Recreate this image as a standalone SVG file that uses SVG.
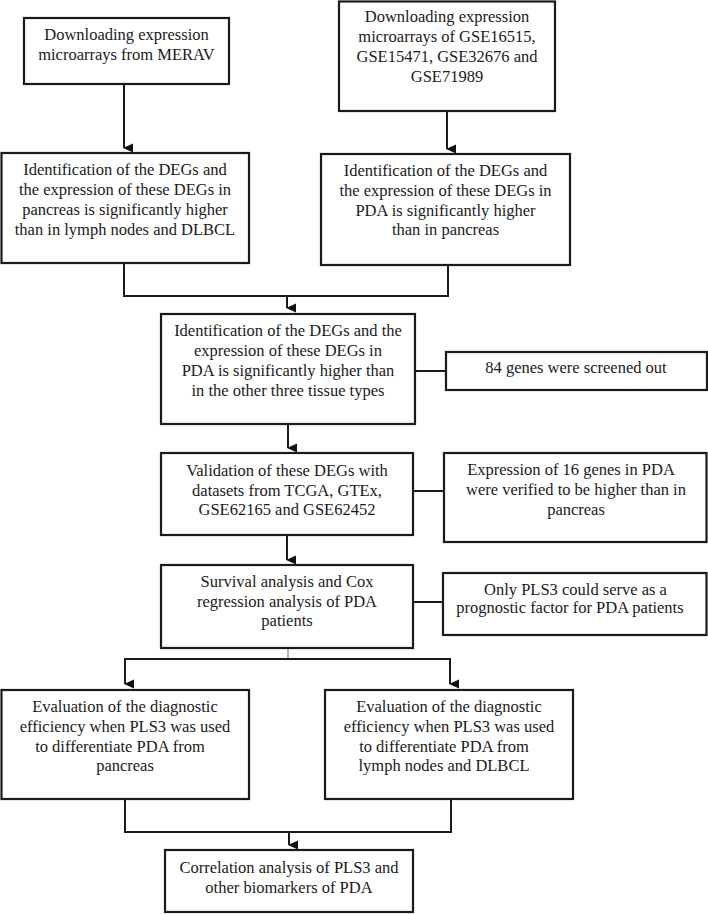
<svg xmlns="http://www.w3.org/2000/svg" width="708" height="914" viewBox="0 0 708 914">
<defs>
<marker id="arr" markerWidth="10" markerHeight="10" refX="5" refY="9" orient="auto" markerUnits="userSpaceOnUse" viewBox="0 0 10 10">
<path d="M0.5,0 L9.5,0 L5,10 Z" fill="#111"/>
</marker>
<style>
.box{fill:#fff;stroke:#1a1a1a;stroke-width:2.2}
.t{font-family:"Liberation Serif","Times New Roman",serif;font-size:16.5px;fill:#1a1a1a;text-anchor:middle}
.c{fill:none;stroke:#1a1a1a;stroke-width:2}
.g{fill:none;stroke:#888;stroke-width:1.2}
</style>
</defs>
<rect width="708" height="914" fill="#fff"/>
<g id="connectors">
<path class="c" d="M124,84 V148" marker-end="url(#arr)"/>
<path class="c" d="M447,111 V149" marker-end="url(#arr)"/>
<path class="c" d="M124,263 V296 H448 V265"/>
<path class="c" d="M287,296 V308" marker-end="url(#arr)"/>
<path class="c" d="M415,371 H446"/>
<path class="c" d="M288,424 V448" marker-end="url(#arr)"/>
<path class="c" d="M413,491 H444"/>
<path class="c" d="M287,535 V560" marker-end="url(#arr)"/>
<path class="c" d="M413,602 H443"/>
<path class="g" d="M288,648 V659"/>
<path class="c" d="M125,684 V659 H450 V684" marker-end="url(#arr)"/>
<path class="c" d="M125,660 V684" marker-end="url(#arr)"/>
<path class="c" d="M125,799 V832 H451 V799"/>
<path class="c" d="M289,832 V845" marker-end="url(#arr)"/>
</g>
<g id="n1">
<rect class="box" x="24" y="18" width="205" height="66"/>
<text class="t" x="126.5" y="40">Downloading expression</text>
<text class="t" x="126.5" y="60">microarrays from MERAV</text>
</g>
<g id="n2">
<rect class="box" x="339" y="1.5" width="216" height="109.5"/>
<text class="t" x="447" y="22">Downloading expression</text>
<text class="t" x="447" y="42">microarrays of GSE16515,</text>
<text class="t" x="447" y="62">GSE15471, GSE32676 and</text>
<text class="t" x="447" y="82">GSE71989</text>
</g>
<g id="n3">
<rect class="box" x="1.5" y="153" width="247.5" height="110"/>
<text class="t" x="125" y="175">Identification of the DEGs and</text>
<text class="t" x="125" y="195">the expression of these DEGs in</text>
<text class="t" x="125" y="215">pancreas is significantly higher</text>
<text class="t" x="125" y="235">than in lymph nodes and DLBCL</text>
</g>
<g id="n4">
<rect class="box" x="321" y="154" width="249" height="111"/>
<text class="t" x="445.5" y="176">Identification of the DEGs and</text>
<text class="t" x="445.5" y="196">the expression of these DEGs in</text>
<text class="t" x="445.5" y="216">PDA is significantly higher</text>
<text class="t" x="445.5" y="235">than in pancreas</text>
</g>
<g id="n5">
<rect class="box" x="161" y="314" width="254" height="110"/>
<text class="t" x="288" y="336">Identification of the DEGs and the</text>
<text class="t" x="288" y="356">expression of these DEGs in</text>
<text class="t" x="288" y="376">PDA is significantly higher than</text>
<text class="t" x="288" y="396">in the other three tissue types</text>
</g>
<g id="n6">
<rect class="box" x="446" y="352" width="261" height="38"/>
<text class="t" x="576" y="373">84 genes were screened out</text>
</g>
<g id="n7">
<rect class="box" x="161" y="453" width="252" height="82"/>
<text class="t" x="287" y="476">Validation of these DEGs with</text>
<text class="t" x="287" y="496">datasets from TCGA, GTEx,</text>
<text class="t" x="287" y="515">GSE62165 and GSE62452</text>
</g>
<g id="n8">
<rect class="box" x="444" y="453" width="262.5" height="89"/>
<text class="t" x="571" y="475">Expression of 16 genes in PDA</text>
<text class="t" x="576" y="495">were verified to be higher than in</text>
<text class="t" x="576" y="515">pancreas</text>
</g>
<g id="n9">
<rect class="box" x="161" y="565" width="252" height="83"/>
<text class="t" x="287" y="587">Survival analysis and Cox</text>
<text class="t" x="287" y="607">regression analysis of PDA</text>
<text class="t" x="287" y="626">patients</text>
</g>
<g id="n10">
<rect class="box" x="443" y="573" width="263.5" height="62"/>
<text class="t" x="575.5" y="595">Only PLS3 could serve as a</text>
<text class="t" x="570" y="613">prognostic factor for PDA patients</text>
</g>
<g id="n11">
<rect class="box" x="1.5" y="690" width="247.5" height="109"/>
<text class="t" x="125" y="712">Evaluation of the diagnostic</text>
<text class="t" x="125" y="732">efficiency when PLS3 was used</text>
<text class="t" x="120" y="752">to differentiate PDA from</text>
<text class="t" x="125" y="771">pancreas</text>
</g>
<g id="n12">
<rect class="box" x="325" y="690" width="248" height="109"/>
<text class="t" x="449" y="712">Evaluation of the diagnostic</text>
<text class="t" x="449" y="732">efficiency when PLS3 was used</text>
<text class="t" x="444" y="752">to differentiate PDA from</text>
<text class="t" x="444" y="771">lymph nodes and DLBCL</text>
</g>
<g id="n13">
<rect class="box" x="165" y="850" width="248" height="62"/>
<text class="t" x="289" y="873">Correlation analysis of PLS3 and</text>
<text class="t" x="289" y="893">other biomarkers of PDA</text>
</g>
</svg>
